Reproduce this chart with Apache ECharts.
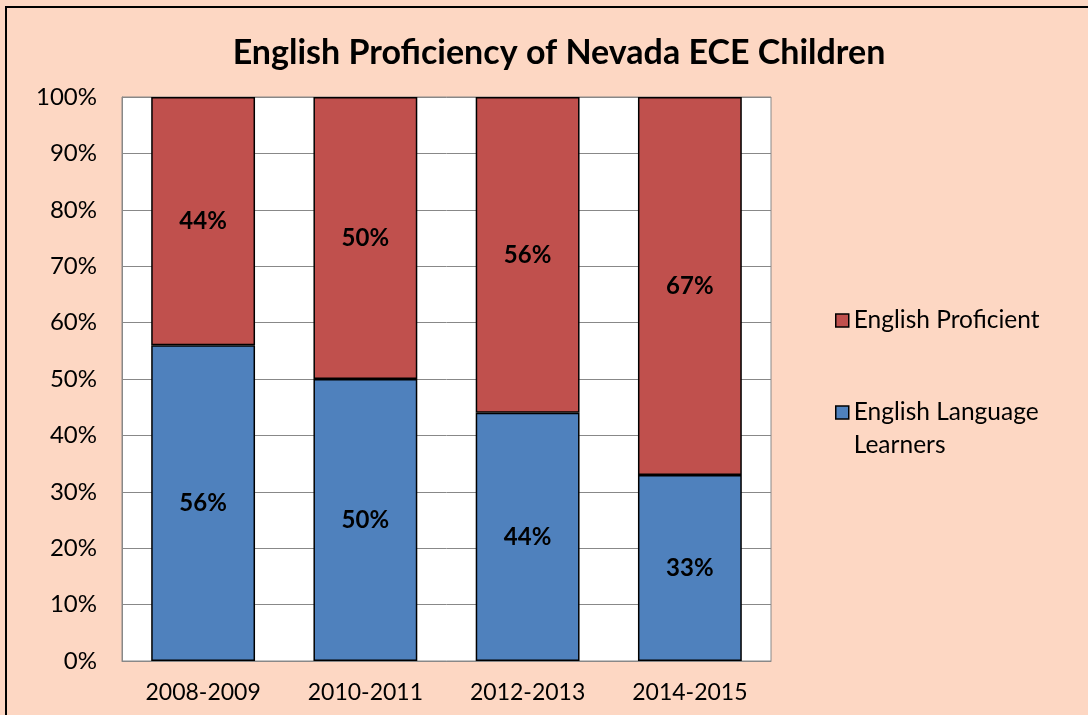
<!DOCTYPE html>
<html><head><meta charset="utf-8">
<script src="https://cdn.jsdelivr.net/npm/echarts@6/dist/echarts.min.js"></script>
<style>
html,body{margin:0;padding:0;background:#FDD7C3;}
#c{position:absolute;left:0;top:0;width:1088px;height:715px;}
#b{position:absolute;left:5px;top:6px;width:1100px;height:720px;border:2px solid #000;box-sizing:border-box;pointer-events:none;}
</style></head>
<body><div id="c"></div><div id="b"></div>
<script>
const categories = ['2008-2009','2010-2011','2012-2013','2014-2015'];
const learners = [56, 50, 44, 33];
const proficient = [44, 50, 56, 67];
const yTicks = [0,10,20,30,40,50,60,70,80,90,100];
const FONT = 'Lato';
const chart = echarts.init(document.getElementById('c'));
const labelStyle = {show:true, position:'inside', formatter:'{c}%', color:'#000', fontWeight:'bold', fontSize:24, fontFamily:FONT};
chart.setOption({
  backgroundColor:'transparent',
  animation:false,
  title:{text:'English Proficiency of Nevada ECE Children', left:554, textAlign:'center', top:31,
    textStyle:{fontFamily:FONT, fontWeight:'bold', fontSize:34, color:'#000'}},
  grid:{left:122, top:97, width:649, height:564, show:true, backgroundColor:'#fff', borderColor:'#888', borderWidth:1},
  legend:{orient:'vertical', left:830, top:299, itemGap:26, itemWidth:13, itemHeight:13, icon:'rect',
    data:['English Proficient','English Language Learners'],
    formatter:function(n){return n==='English Language Learners' ? ' \nEnglish Language\nLearners' : n;},
    itemStyle:{borderColor:'#000', borderWidth:1.5},
    textStyle:{fontFamily:FONT, fontSize:24.5, color:'#000', lineHeight:33}},
  xAxis:{type:'category', data:categories,
    axisLine:{lineStyle:{color:'#888'}}, axisTick:{show:false},
    axisLabel:{fontFamily:FONT, fontSize:23, color:'#000', margin:20}},
  yAxis:{type:'value', min:0, max:100, interval:10,
    axisLine:{show:true, lineStyle:{color:'#888'}}, axisTick:{show:false},
    splitLine:{lineStyle:{color:'#888'}},
    axisLabel:{fontFamily:FONT, fontSize:24, color:'#000', margin:25, formatter:function(v){return yTicks.indexOf(v)>=0? v+'%':'';}}},
  series:[
    {name:'English Language Learners', type:'bar', stack:'s', data:learners, barCategoryGap:'36%',
      itemStyle:{color:'#4F81BD', borderColor:'#000', borderWidth:1.5}, label:labelStyle},
    {name:'English Proficient', type:'bar', stack:'s', data:proficient, barCategoryGap:'36%',
      itemStyle:{color:'#C0504D', borderColor:'#000', borderWidth:1.5}, label:labelStyle}
  ]
});
</script></body></html>
